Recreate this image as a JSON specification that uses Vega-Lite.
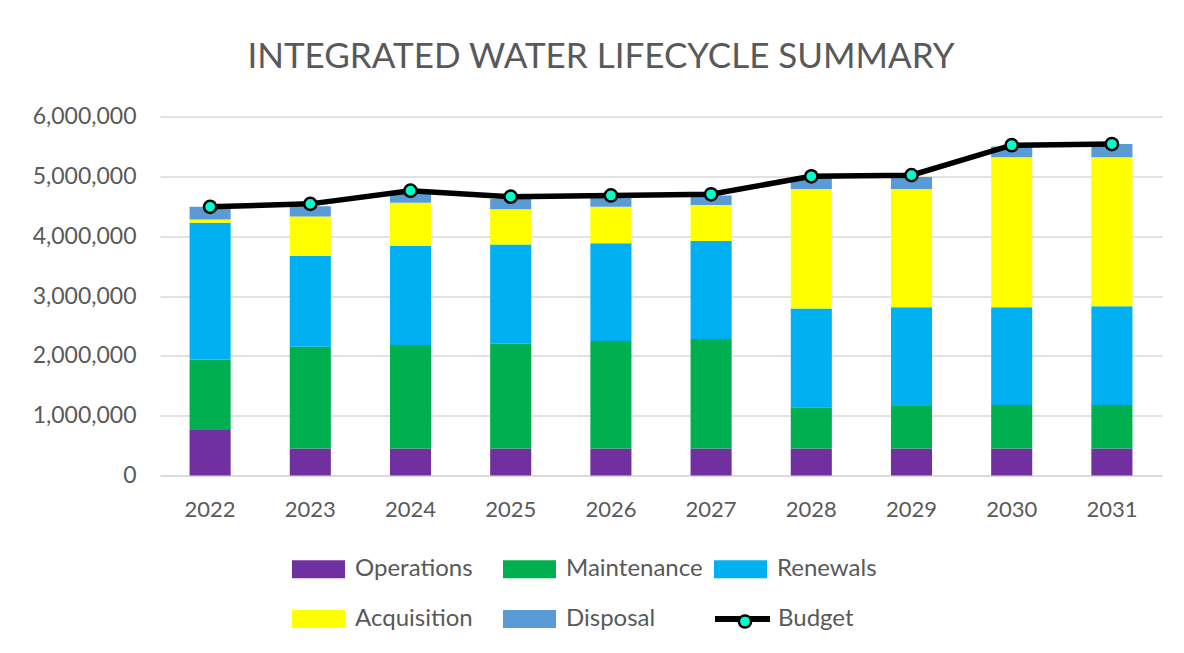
{
  "$schema": "https://vega.github.io/schema/vega-lite/v6.json",
  "autosize": {"type": "none"},
  "width": 1002,
  "height": 359,
  "padding": {"left": 160, "top": 116.5, "right": 22, "bottom": 177.5},
  "background": "white",
  "title": {
    "text": "INTEGRATED WATER LIFECYCLE SUMMARY",
    "font": "Lato",
    "fontSize": 35,
    "fontWeight": "normal",
    "color": "#595959",
    "anchor": "middle",
    "dx": -60,
    "baseline": "alphabetic",
    "offset": 3
  },
  "config": {
    "font": "Lato",
    "view": {"stroke": null},
    "axis": {
      "labelFont": "Lato",
      "labelFontSize": 22,
      "labelColor": "#595959",
      "ticks": false,
      "title": null
    },
    "legend": {
      "labelFont": "Lato",
      "labelFontSize": 24,
      "labelColor": "#595959"
    }
  },
  "datasets": {
    "costs": [
      {"year": "2022", "category": "Operations", "k": 1, "value": 760000},
      {"year": "2022", "category": "Maintenance", "k": 2, "value": 1180000},
      {"year": "2022", "category": "Renewals", "k": 3, "value": 2285000},
      {"year": "2022", "category": "Acquisition", "k": 4, "value": 55000},
      {"year": "2022", "category": "Disposal", "k": 5, "value": 210000},
      {"year": "2023", "category": "Operations", "k": 1, "value": 450000},
      {"year": "2023", "category": "Maintenance", "k": 2, "value": 1700000},
      {"year": "2023", "category": "Renewals", "k": 3, "value": 1520000},
      {"year": "2023", "category": "Acquisition", "k": 4, "value": 660000},
      {"year": "2023", "category": "Disposal", "k": 5, "value": 170000},
      {"year": "2024", "category": "Operations", "k": 1, "value": 450000},
      {"year": "2024", "category": "Maintenance", "k": 2, "value": 1730000},
      {"year": "2024", "category": "Renewals", "k": 3, "value": 1660000},
      {"year": "2024", "category": "Acquisition", "k": 4, "value": 720000},
      {"year": "2024", "category": "Disposal", "k": 5, "value": 160000},
      {"year": "2025", "category": "Operations", "k": 1, "value": 450000},
      {"year": "2025", "category": "Maintenance", "k": 2, "value": 1750000},
      {"year": "2025", "category": "Renewals", "k": 3, "value": 1660000},
      {"year": "2025", "category": "Acquisition", "k": 4, "value": 590000},
      {"year": "2025", "category": "Disposal", "k": 5, "value": 170000},
      {"year": "2026", "category": "Operations", "k": 1, "value": 450000},
      {"year": "2026", "category": "Maintenance", "k": 2, "value": 1800000},
      {"year": "2026", "category": "Renewals", "k": 3, "value": 1630000},
      {"year": "2026", "category": "Acquisition", "k": 4, "value": 610000},
      {"year": "2026", "category": "Disposal", "k": 5, "value": 160000},
      {"year": "2027", "category": "Operations", "k": 1, "value": 450000},
      {"year": "2027", "category": "Maintenance", "k": 2, "value": 1830000},
      {"year": "2027", "category": "Renewals", "k": 3, "value": 1640000},
      {"year": "2027", "category": "Acquisition", "k": 4, "value": 600000},
      {"year": "2027", "category": "Disposal", "k": 5, "value": 160000},
      {"year": "2028", "category": "Operations", "k": 1, "value": 450000},
      {"year": "2028", "category": "Maintenance", "k": 2, "value": 690000},
      {"year": "2028", "category": "Renewals", "k": 3, "value": 1650000},
      {"year": "2028", "category": "Acquisition", "k": 4, "value": 2000000},
      {"year": "2028", "category": "Disposal", "k": 5, "value": 190000},
      {"year": "2029", "category": "Operations", "k": 1, "value": 450000},
      {"year": "2029", "category": "Maintenance", "k": 2, "value": 710000},
      {"year": "2029", "category": "Renewals", "k": 3, "value": 1650000},
      {"year": "2029", "category": "Acquisition", "k": 4, "value": 1980000},
      {"year": "2029", "category": "Disposal", "k": 5, "value": 200000},
      {"year": "2030", "category": "Operations", "k": 1, "value": 450000},
      {"year": "2030", "category": "Maintenance", "k": 2, "value": 730000},
      {"year": "2030", "category": "Renewals", "k": 3, "value": 1630000},
      {"year": "2030", "category": "Acquisition", "k": 4, "value": 2510000},
      {"year": "2030", "category": "Disposal", "k": 5, "value": 180000},
      {"year": "2031", "category": "Operations", "k": 1, "value": 450000},
      {"year": "2031", "category": "Maintenance", "k": 2, "value": 730000},
      {"year": "2031", "category": "Renewals", "k": 3, "value": 1650000},
      {"year": "2031", "category": "Acquisition", "k": 4, "value": 2490000},
      {"year": "2031", "category": "Disposal", "k": 5, "value": 220000}
    ],
    "budget": [
      {"year": "2022", "series": "Budget", "marker": "Budget marker", "budget": 4490000},
      {"year": "2023", "series": "Budget", "marker": "Budget marker", "budget": 4540000},
      {"year": "2024", "series": "Budget", "marker": "Budget marker", "budget": 4760000},
      {"year": "2025", "series": "Budget", "marker": "Budget marker", "budget": 4660000},
      {"year": "2026", "series": "Budget", "marker": "Budget marker", "budget": 4680000},
      {"year": "2027", "series": "Budget", "marker": "Budget marker", "budget": 4700000},
      {"year": "2028", "series": "Budget", "marker": "Budget marker", "budget": 5000000},
      {"year": "2029", "series": "Budget", "marker": "Budget marker", "budget": 5020000},
      {"year": "2030", "series": "Budget", "marker": "Budget marker", "budget": 5520000},
      {"year": "2031", "series": "Budget", "marker": "Budget marker", "budget": 5540000}
    ]
  },
  "encoding": {
    "x": {
      "field": "year",
      "type": "ordinal",
      "scale": {"paddingInner": 0.59, "paddingOuter": 0.295},
      "axis": {
        "labelAngle": 0,
        "domain": true,
        "domainColor": "#D9D9D9",
        "domainWidth": 1.3,
        "labelPadding": 24,
        "grid": false
      }
    }
  },
  "layer": [
    {
      "data": {"name": "costs"},
      "mark": {"type": "bar"},
      "encoding": {
        "y": {
          "field": "value",
          "type": "quantitative",
          "stack": "zero",
          "scale": {"domain": [0, 6000000], "nice": false},
          "axis": {
            "values": [0, 1000000, 2000000, 3000000, 4000000, 5000000, 6000000],
            "format": ",d",
            "grid": true,
            "gridColor": "#D9D9D9",
            "gridWidth": 1.3,
            "domain": false,
            "labelFontSize": 23,
            "labelPadding": 24
          }
        },
        "order": {"field": "k", "type": "quantitative"},
        "color": {
          "field": "category",
          "type": "nominal",
          "scale": {
            "domain": ["Operations", "Maintenance", "Renewals", "Acquisition", "Disposal"],
            "range": ["#7030A0", "#00B050", "#00B0F0", "#FFFF00", "#5B9BD5"]
          },
          "legend": {
            "title": null,
            "orient": "none",
            "direction": "horizontal",
            "legendX": 132,
            "legendY": 426,
            "columns": 3,
            "gridAlign": "all",
            "columnPadding": 11,
            "rowPadding": 11,
            "symbolType": "M-1,-0.34H1V0.34H-1Z",
            "symbolSize": 2809,
            "symbolStrokeWidth": 0,
            "labelOffset": 10
          }
        }
      }
    },
    {
      "data": {"name": "budget"},
      "mark": {"type": "line", "strokeWidth": 5.5},
      "encoding": {
        "y": {"field": "budget", "type": "quantitative"},
        "stroke": {
          "field": "series",
          "type": "nominal",
          "scale": {"domain": ["Budget"], "range": ["#000000"]},
          "legend": {
            "title": null,
            "orient": "none",
            "legendX": 552,
            "legendY": 472,
            "symbolType": "stroke",
            "symbolSize": 3025,
            "symbolStrokeWidth": 6,
            "labelOffset": 5
          }
        }
      }
    },
    {
      "data": {"name": "budget"},
      "mark": {"type": "point", "filled": true, "shape": "circle", "size": 150, "stroke": "#000000", "strokeWidth": 2.5, "opacity": 1},
      "encoding": {
        "y": {"field": "budget", "type": "quantitative"},
        "fill": {
          "field": "marker",
          "type": "nominal",
          "scale": {"domain": ["Budget marker"], "range": ["#00FFCC"]},
          "legend": {
            "title": null,
            "orient": "none",
            "legendX": 573,
            "legendY": 493,
            "zindex": 2,
            "symbolType": "circle",
            "symbolSize": 150,
            "symbolStrokeColor": "#000000",
            "symbolStrokeWidth": 2.5,
            "labelExpr": "''"
          }
        }
      }
    }
  ]
}
